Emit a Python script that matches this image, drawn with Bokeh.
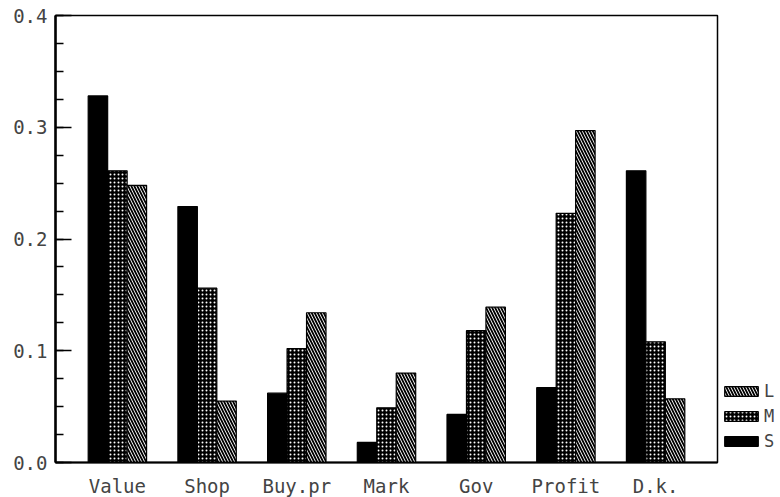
from bokeh.plotting import figure
from bokeh.models import ColumnDataSource, FixedTicker, Legend, LegendItem
from bokeh.embed import file_html
from bokeh.resources import INLINE

# Share of answers per reason, split by firm size (S, M, L)
categories = ["Value", "Shop", "Buy.pr", "Mark", "Gov", "Profit", "D.k."]
small = [0.328, 0.229, 0.062, 0.018, 0.043, 0.067, 0.261]
medium = [0.261, 0.156, 0.102, 0.049, 0.118, 0.223, 0.108]
large = [0.248, 0.055, 0.134, 0.080, 0.139, 0.297, 0.057]
y_ticks = [0.0, 0.1, 0.2, 0.3, 0.4]

FONT = "DejaVu Sans Mono"
bar_w = 0.217
pos = list(range(len(categories)))

src = ColumnDataSource(dict(
    x=pos,
    xs=[p - bar_w for p in pos],
    xl=[p + bar_w for p in pos],
    s=small, m=medium, l=large,
))

p = figure(
    frame_width=662, frame_height=447,
    x_range=(-0.69, 6.69), y_range=(0, 0.4),
    output_backend="svg", toolbar_location=None,
    min_border_left=55, min_border_right=0,
    min_border_top=15, min_border_bottom=35,
)

rs = p.vbar(x="xs", top="s", width=bar_w, source=src,
            fill_color="black", line_color="black", line_width=1.2)
rm = p.vbar(x="x", top="m", width=bar_w, source=src,
            fill_color="black", line_color="black", line_width=1.2,
            hatch_pattern="dot", hatch_color="white", hatch_scale=4,
            hatch_weight=2.2)
rl = p.vbar(x="xl", top="l", width=bar_w, source=src,
            fill_color="white", line_color="black", line_width=1.2,
            hatch_pattern="left_diagonal_line", hatch_color="black",
            hatch_scale=6, hatch_weight=1.8)

legend = Legend(
    items=[LegendItem(label="L", renderers=[rl]),
           LegendItem(label="M", renderers=[rm]),
           LegendItem(label="S", renderers=[rs])],
    location=(0, 8),
    glyph_width=42, glyph_height=12, spacing=5,
    label_text_font=FONT, label_text_font_size="17px",
    label_standoff=2, padding=3, margin=0,
    background_fill_alpha=0, border_line_alpha=0,
)
p.add_layout(legend, "right")

# axes
p.xgrid.visible = False
p.ygrid.visible = False
p.outline_line_color = "black"
p.outline_line_width = 1.5

p.xaxis.ticker = FixedTicker(ticks=pos)
p.xaxis.major_label_overrides = {i: c for i, c in enumerate(categories)}
p.xaxis.major_tick_line_color = None
p.xaxis.minor_tick_line_color = None
p.xaxis.axis_line_width = 2
p.xaxis.major_label_text_font = FONT
p.xaxis.major_label_text_font_size = "19px"
p.xaxis.major_label_standoff = 6

p.yaxis.ticker = FixedTicker(ticks=y_ticks,
                             minor_ticks=[i * 0.025 for i in range(17)])
p.yaxis.major_label_overrides = {t: f"{t:.1f}" for t in y_ticks}
p.yaxis.axis_line_width = 2.5
p.yaxis.major_tick_in = 16
p.yaxis.major_tick_out = 0
p.yaxis.minor_tick_in = 8
p.yaxis.minor_tick_out = 0
p.yaxis.major_tick_line_width = 1.5
p.yaxis.minor_tick_line_width = 1.5
p.yaxis.major_label_text_font = FONT
p.yaxis.major_label_text_font_size = "19px"
p.yaxis.major_label_standoff = 8

open("out.html", "w").write(file_html(p, INLINE))
